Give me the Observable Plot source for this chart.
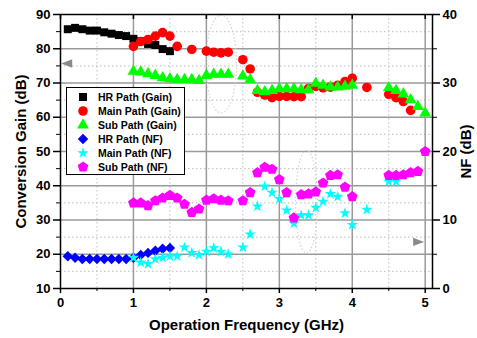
<!DOCTYPE html>
<html>
<head>
<meta charset="utf-8">
<script src="https://cdn.jsdelivr.net/npm/d3@7"></script>
<script src="https://cdn.jsdelivr.net/npm/@observablehq/plot@0.6"></script>
<style>
  html, body { margin: 0; padding: 0; background: #fff; }
  #chart { position: relative; width: 477px; height: 338px; }
  #legend { position: absolute; left: 66px; top: 87px; }
</style>
</head>
<body>
<div id="chart"></div>
<script>
// ---- Measured data -------------------------------------------------------
// Frequencies in GHz; gains in dB (left axis), noise figures in dB (right axis).
const freqHR = [0.1, 0.2, 0.3, 0.4, 0.5, 0.6, 0.7, 0.8, 0.9, 1.0, 1.1, 1.2, 1.3, 1.4, 1.5];
const hrGain = [85.7, 86.1, 85.7, 85.3, 85.3, 84.8, 84.4, 84.0, 83.7, 82.9, 82.2, 81.4, 81.1, 79.9, 79.3];
const hrNF   = [4.7, 4.5, 4.3, 4.3, 4.3, 4.3, 4.3, 4.3, 4.3, 4.5, 4.9, 5.2, 5.5, 5.8, 5.9];

const freqMainGain = [1.0, 1.1, 1.2, 1.3, 1.4, 1.5, 1.6, 1.8, 2.0, 2.1, 2.2, 2.3,
  2.5, 2.6, 2.7, 2.8, 2.9, 3.0, 3.1, 3.2, 3.3, 3.4, 3.5, 3.6, 3.7, 3.8, 3.9, 4.0,
  4.2, 4.5, 4.6, 4.7, 4.8];
const mainGain = [80.7, 82.1, 82.7, 83.7, 84.7, 83.7, 80.7, 79.8, 79.3, 79.0, 78.8, 79.0,
  76.8, 74.1, 67.3, 66.5, 65.7, 66.1, 66.1, 66.0, 66.0, 68.4, 69.0, 68.6, 68.8, 69.3, 70.4, 71.4,
  68.7, 66.7, 65.7, 64.6, 62.0];

const freqMainNF = [1.0, 1.1, 1.2, 1.3, 1.4, 1.5, 1.6, 1.7, 1.8, 1.9, 2.0, 2.1, 2.2, 2.3,
  2.5, 2.6, 2.7, 2.8, 2.9, 3.0, 3.1, 3.2, 3.3, 3.4, 3.5, 3.6, 3.7, 3.8, 3.9, 4.0,
  4.2, 4.5, 4.6];
const mainNF = [4.5, 3.8, 3.6, 4.3, 4.5, 4.7, 4.7, 6.0, 5.2, 4.9, 5.4, 5.9, 5.4, 5.0,
  6.0, 7.9, 12.0, 14.9, 14.0, 13.1, 11.4, 9.5, 10.7, 10.7, 11.8, 12.7, 13.8, 13.4, 11.0, 9.3,
  11.5, 15.6, 15.6];

const freqSub = [1.0, 1.1, 1.2, 1.3, 1.4, 1.5, 1.6, 1.7, 1.8, 1.9, 2.0, 2.1, 2.2, 2.3,
  2.5, 2.6, 2.7, 2.8, 2.9, 3.0, 3.1, 3.2, 3.3, 3.4, 3.5, 3.6, 3.7, 3.8, 3.9, 4.0,
  4.5, 4.6, 4.7, 4.8, 4.9, 5.0];
const subGain = [73.4, 73.2, 72.7, 72.2, 71.5, 71.2, 71.0, 71.0, 71.0, 70.7, 72.2, 72.5, 72.5, 72.5,
  72.0, 70.9, 67.8, 67.4, 67.8, 68.3, 68.3, 68.3, 68.0, 68.0, 69.9, 69.3, 68.8, 68.8, 69.0, 69.3,
  68.6, 67.8, 66.8, 65.1, 63.1, 61.2];
const subNF = [12.5, 12.5, 12.1, 12.8, 13.2, 13.6, 13.2, 12.3, 11.1, 11.6, 12.9, 13.1, 12.9, 12.8,
  12.8, 14.0, 16.9, 17.7, 17.4, 15.9, 14.0, 10.3, 13.7, 13.8, 14.1, 15.4, 16.5, 16.6, 14.8, 13.4,
  16.5, 16.5, 16.6, 16.9, 17.1, 20.0];

// Axis ticks
const freqTicks = [0, 1, 2, 3, 4, 5];
const freqMinor = [0.5, 1.5, 2.5, 3.5, 4.5];
const gainTicks = [10, 20, 30, 40, 50, 60, 70, 80, 90];
const gainMinor = [15, 25, 35, 45, 55, 65, 75, 85];
const nfTicks = [0, 10, 20, 30, 40];
const nfMinor = [5, 15, 25, 35];

// Axis pointers (which curve family belongs to which axis) and highlight ellipses
const pointers = [
  {f: 0.085, value: 75.7, axis: "gain", dir: "left"},
  {f: 4.91, value: 6.8, axis: "nf", dir: "right"}
];
const highlights = [
  {f: 2.21, value: 75.4, rf: 0.21, rv: 14.3, axis: "gain"},
  {f: 3.38, value: 12.6, rf: 0.15, rv: 7.5, axis: "nf"}
];

// ---- Shared scale: NF (0–40 dB) is drawn on the gain scale (10–90 dB) ----
const nfToGain = v => 10 + 2 * v;
const toY = (v, axis) => axis === "nf" ? nfToGain(v) : v;

// Custom symbols
const pentagon = {
  draw(context, size) {
    const R = Math.sqrt(size) * 0.72;
    for (let i = 0; i < 5; ++i) {
      const a = -Math.PI / 2 + i * 2 * Math.PI / 5;
      const px = R * Math.cos(a), py = R * Math.sin(a);
      if (i === 0) context.moveTo(px, py); else context.lineTo(px, py);
    }
    context.closePath();
  }
};
const arrowLeft = {draw(c) { c.moveTo(-5.5, 0); c.lineTo(5.5, -4.2); c.lineTo(5.5, 4.2); c.closePath(); }};
const arrowRight = {draw(c) { c.moveTo(5.5, 0); c.lineTo(-5.5, -4.2); c.lineTo(-5.5, 4.2); c.closePath(); }};

const series = [
  {name: "HR Path (Gain)",   freq: freqHR,       values: hrGain,   axis: "gain", symbol: "square",   color: "#000000", r: 4.5},
  {name: "Main Path (Gain)", freq: freqMainGain, values: mainGain, axis: "gain", symbol: "circle",   color: "#ff0000", r: 4.8},
  {name: "Sub Path (Gain)",  freq: freqSub,      values: subGain,  axis: "gain", symbol: "triangle", color: "#00ff00", r: 4.4},
  {name: "HR Path (NF)",     freq: freqHR,       values: hrNF,     axis: "nf",   symbol: "diamond2", color: "#0000ff", r: 4.7},
  {name: "Main Path (NF)",   freq: freqMainNF,   values: mainNF,   axis: "nf",   symbol: "star",     color: "#00ffff", r: 3.6},
  {name: "Sub Path (NF)",    freq: freqSub,      values: subNF,    axis: "nf",   symbol: pentagon,   color: "#ff00ff", r: 4.4}
];

const rows = s => s.freq.map((f, i) => ({f, y: toY(s.values[i], s.axis)}));

// Highlight ellipses drawn through the plot's own scales
const ellipseMark = (index, scales) => {
  const g = d3.create("svg:g");
  for (const h of highlights) {
    const cx = scales.x(h.f), cy = scales.y(toY(h.value, h.axis));
    const rx = Math.abs(scales.x(h.f + h.rf) - cx);
    const ry = Math.abs(scales.y(toY(h.value + h.rv, h.axis)) - cy);
    g.append("ellipse")
      .attr("cx", cx).attr("cy", cy).attr("rx", rx).attr("ry", ry)
      .attr("fill", "none").attr("stroke", "#d4d4d4")
      .attr("stroke-width", 1.2).attr("stroke-dasharray", "1.5,2");
  }
  return g.node();
};

const titleFont = {fontSize: 15, fontWeight: "bold", textAnchor: "middle", text: d => d};

const chart = Plot.plot({
  width: 477,
  height: 338,
  marginLeft: 60,
  marginRight: 45,
  marginTop: 14,
  marginBottom: 50,
  x: {domain: [0, 5.1]},
  y: {domain: [10, 90]},
  style: {
    fontFamily: "'Liberation Sans', Arial, sans-serif",
    fontWeight: "bold",
    fontSize: "13px",
    color: "#000",
    background: "#fff",
    overflow: "visible"
  },
  marks: [
    // minor (dotted) and major (solid) grid
    Plot.gridX(freqMinor, {stroke: "#c8c8c8", strokeOpacity: 1, strokeDasharray: "1.5,2.5", strokeWidth: 1.2}),
    Plot.gridY(gainMinor, {stroke: "#c8c8c8", strokeOpacity: 1, strokeDasharray: "1.5,2.5", strokeWidth: 1.2}),
    Plot.gridX([1, 2, 3, 4, 5], {stroke: "#9a9a9a", strokeOpacity: 1, strokeWidth: 1.5}),
    Plot.gridY([20, 30, 40, 50, 60, 70, 80], {stroke: "#9a9a9a", strokeOpacity: 1, strokeWidth: 1.5}),
    ellipseMark,
    Plot.frame({stroke: "#000", strokeWidth: 1.5}),

    // axis pointers
    Plot.dot(pointers, {
      x: "f", y: d => toY(d.value, d.axis),
      symbol: d => d.dir === "left" ? arrowLeft : arrowRight,
      fill: "#8a8a8a", r: 4
    }),

    // data
    ...series.map(s => Plot.dot(rows(s), {x: "f", y: "y", symbol: () => s.symbol, fill: s.color, r: s.r})),

    // axes
    Plot.axisX({ticks: freqTicks, tickSize: 5, tickPadding: 4, label: null, tickFormat: d => d, strokeWidth: 1.5}),
    Plot.axisX({ticks: freqMinor, tickSize: 3, label: null, tickFormat: () => ""}),
    Plot.axisX({anchor: "top", ticks: freqTicks, tickSize: -4, label: null, tickFormat: () => "", strokeWidth: 1.5}),
    Plot.axisY({ticks: gainTicks, tickSize: 7, tickPadding: 3, label: null, strokeWidth: 1.5}),
    Plot.axisY({ticks: gainMinor, tickSize: 4, label: null, tickFormat: () => ""}),
    Plot.axisY({anchor: "right", ticks: nfTicks.map(nfToGain), tickFormat: d => (d - 10) / 2,
                tickSize: 7, tickPadding: 3, label: null, strokeWidth: 1.5}),
    Plot.axisY({anchor: "right", ticks: nfMinor.map(nfToGain), tickSize: 4, label: null, tickFormat: () => ""}),

    // axis titles
    Plot.text(["Operation Frequency (GHz)"], {frameAnchor: "bottom", dy: 41, ...titleFont}),
    Plot.text(["Conversion Gain (dB)"], {frameAnchor: "left", dx: -39, rotate: -90, ...titleFont}),
    Plot.text(["NF (dB)"], {frameAnchor: "right", dx: 34, rotate: -90, ...titleFont})
  ]
});

const container = document.getElementById("chart");
container.append(chart);

// ---- Legend box --------------------------------------------------------
const legend = d3.create("svg")
  .attr("id", "legend")
  .attr("width", 119)
  .attr("height", 88)
  .style("position", "absolute")
  .style("left", "66px")
  .style("top", "87px");
legend.append("rect")
  .attr("x", 0.5).attr("y", 0.5).attr("width", 118).attr("height", 87)
  .attr("fill", "#fff").attr("stroke", "#000").attr("stroke-width", 1);
const toD3 = sym => typeof sym === "string"
  ? {square: d3.symbolSquare, circle: d3.symbolCircle, triangle: d3.symbolTriangle,
     diamond2: d3.symbolDiamond2, star: d3.symbolStar}[sym]
  : sym;
series.forEach((s, i) => {
  const y = 10 + i * 14;
  legend.append("path")
    .attr("transform", `translate(17,${y})`)
    .attr("d", d3.symbol(toD3(s.symbol), Math.PI * s.r * s.r)())
    .attr("fill", s.color);
  legend.append("text")
    .attr("x", 32).attr("y", y).attr("dy", "0.36em")
    .attr("font-family", "'Liberation Sans', Arial, sans-serif")
    .attr("font-weight", "bold").attr("font-size", "10.5px")
    .text(s.name);
});
container.append(legend.node());
</script>
</body>
</html>
